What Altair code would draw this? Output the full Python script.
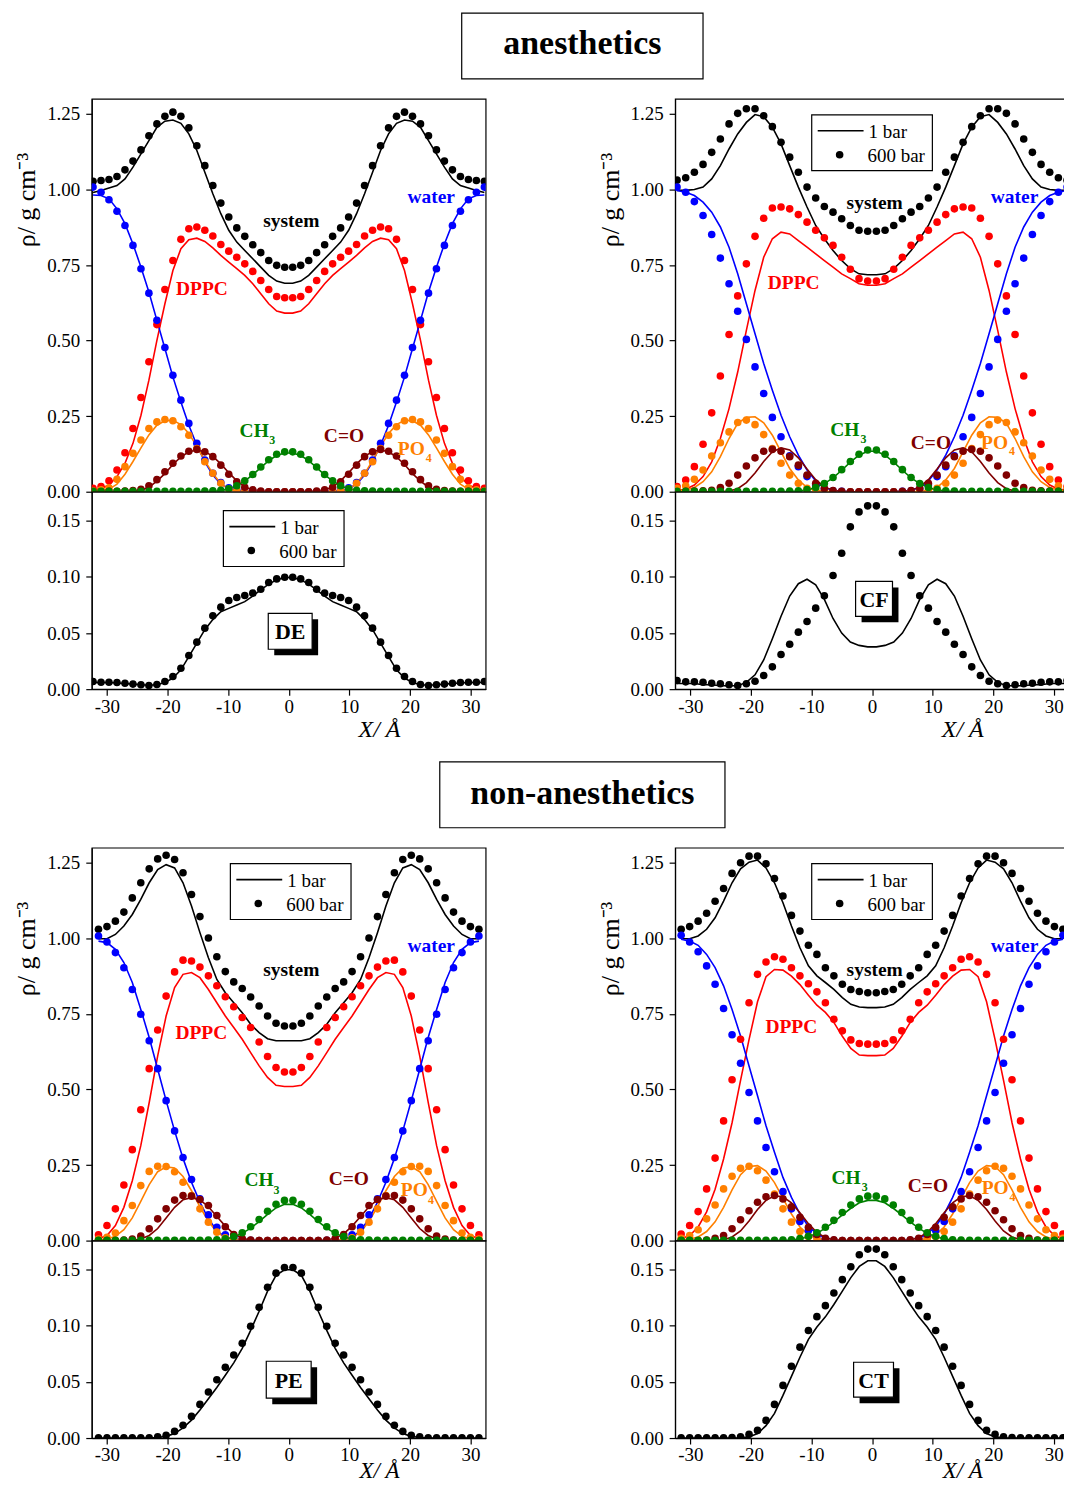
import altair as alt
import pandas as pd

FONT = "Liberation Serif"

COMPONENTS = ["system", "DPPC", "water", "PO4", "C=O", "CH3"]
COLORS = ["#000000", "#ff0000", "#0000ff", "#ff8000", "#800000", "#008000"]

X_TICKS = [-30, -20, -10, 0, 10, 20, 30]
Y_TICKS_TOP = [0.0, 0.25, 0.5, 0.75, 1.0, 1.25]
Y_TICKS_BOT = [0.0, 0.05, 0.10, 0.15]

# ---- bin centres of the left half (edge -> centre), Angstrom; profiles are symmetric ----
X_DE = [-32.29, -30.97, -29.66, -28.34, -27.02, -25.70, -24.38, -23.07, -21.75, -20.43, -19.11, -17.79,
        -16.48, -15.16, -13.84, -12.52, -11.20, -9.89, -8.57, -7.25, -5.93, -4.61, -3.30, -1.98, -0.66]
X_CF = [-32.18, -30.75, -29.32, -27.89, -26.46, -25.03, -23.60, -22.17, -20.74, -19.31, -17.88, -16.45,
        -15.02, -13.59, -12.16, -10.73, -9.30, -7.87, -6.44, -5.01, -3.58, -2.15, -0.72]
X_PE = [-31.39, -29.99, -28.60, -27.20, -25.81, -24.41, -23.02, -21.62, -20.23, -18.83, -17.44, -16.04,
        -14.65, -13.25, -11.86, -10.46, -9.07, -7.67, -6.28, -4.88, -3.49, -2.09, -0.70]
X_CT = [-31.50, -30.10, -28.70, -27.30, -25.90, -24.50, -23.10, -21.70, -20.30, -18.90, -17.50, -16.10,
        -14.70, -13.30, -11.90, -10.50, -9.10, -7.70, -6.30, -4.90, -3.50, -2.10, -0.70]

# ---------------- DE (anesthetic) ----------------
DE_SYS_1 = [0.990, 0.997, 1.005, 1.013, 1.035, 1.074, 1.118, 1.162, 1.206, 1.226, 1.230, 1.219, 1.184,
            1.129, 1.057, 0.986, 0.920, 0.865, 0.826, 0.798, 0.771, 0.743, 0.716, 0.697, 0.690]
DE_SYS_600 = [1.027, 1.030, 1.033, 1.043, 1.065, 1.094, 1.131, 1.178, 1.217, 1.242, 1.256, 1.242, 1.204,
              1.145, 1.079, 1.013, 0.955, 0.909, 0.873, 0.845, 0.817, 0.791, 0.765, 0.749, 0.743]
DE_DPPC_1 = [0.005, 0.011, 0.022, 0.050, 0.094, 0.160, 0.253, 0.369, 0.501, 0.622, 0.732, 0.804, 0.834,
             0.839, 0.828, 0.807, 0.782, 0.760, 0.738, 0.716, 0.688, 0.655, 0.622, 0.598, 0.591]
DE_DPPC_600 = [0.011, 0.017, 0.036, 0.072, 0.129, 0.209, 0.312, 0.430, 0.553, 0.669, 0.765, 0.835, 0.870,
               0.876, 0.865, 0.846, 0.818, 0.796, 0.776, 0.754, 0.729, 0.699, 0.669, 0.646, 0.642]
DE_WAT_1 = [0.982, 0.980, 0.969, 0.936, 0.887, 0.820, 0.743, 0.661, 0.567, 0.474, 0.380, 0.297, 0.220,
            0.154, 0.099, 0.055, 0.025, 0.010, 0.003, 0.001, 0.0, 0.0, 0.0, 0.0, 0.0]
DE_WAT_600 = [1.008, 0.991, 0.966, 0.928, 0.881, 0.815, 0.738, 0.657, 0.567, 0.477, 0.385, 0.303, 0.226,
              0.160, 0.105, 0.061, 0.030, 0.013, 0.006, 0.002, 0.001, 0.0, 0.0, 0.0, 0.0]
DE_PO4_1 = [0.001, 0.003, 0.008, 0.025, 0.058, 0.100, 0.145, 0.188, 0.220, 0.235, 0.236, 0.222, 0.193,
            0.150, 0.103, 0.060, 0.027, 0.009, 0.002, 0.0, 0.0, 0.0, 0.0, 0.0, 0.0]
DE_PO4_600 = [0.002, 0.006, 0.013, 0.041, 0.083, 0.127, 0.171, 0.209, 0.231, 0.239, 0.235, 0.215, 0.187,
              0.143, 0.099, 0.061, 0.028, 0.009, 0.003, 0.001, 0.0, 0.0, 0.0, 0.0, 0.0]
DE_CO_1 = [0.0, 0.0, 0.0, 0.0, 0.001, 0.002, 0.005, 0.015, 0.035, 0.060, 0.090, 0.115, 0.132,
           0.138, 0.133, 0.117, 0.092, 0.063, 0.036, 0.016, 0.006, 0.002, 0.0, 0.0, 0.0]
DE_CO_600 = [0.0, 0.0, 0.001, 0.001, 0.002, 0.004, 0.008, 0.020, 0.040, 0.066, 0.094, 0.118, 0.134,
             0.140, 0.132, 0.116, 0.088, 0.058, 0.033, 0.015, 0.006, 0.002, 0.0, 0.0, 0.0]
DE_CH3_1 = [0.0, 0.0, 0.0, 0.0, 0.0, 0.0, 0.0, 0.0, 0.0, 0.0, 0.0, 0.0, 0.0, 0.0, 0.0,
            0.001, 0.004, 0.010, 0.020, 0.036, 0.056, 0.080, 0.103, 0.120, 0.128]
DE_CH3_600 = [0.001, 0.001, 0.001, 0.001, 0.001, 0.001, 0.001, 0.001, 0.001, 0.001, 0.001, 0.001, 0.001, 0.001,
              0.002, 0.003, 0.005, 0.010, 0.020, 0.036, 0.057, 0.082, 0.106, 0.124, 0.132]
DE_SOL_1 = [0.006, 0.006, 0.006, 0.0055, 0.005, 0.0045, 0.004, 0.0035, 0.004, 0.006, 0.0098, 0.0172, 0.029,
            0.041, 0.053, 0.062, 0.069, 0.072, 0.075, 0.078, 0.083, 0.0885, 0.0936, 0.0974, 0.0995]
DE_SOL_600 = [0.0068, 0.0062, 0.0062, 0.0060, 0.0053, 0.0045, 0.0039, 0.0033, 0.0042, 0.0068, 0.0113, 0.0187,
              0.0300, 0.0419, 0.0544, 0.0654, 0.0731, 0.0790, 0.0817, 0.0835, 0.0856, 0.0891, 0.0951, 0.0983, 0.0998]

# ---------------- CF (anesthetic) ----------------
CF_SYS_1 = [0.997, 0.997, 1.000, 1.008, 1.035, 1.079, 1.134, 1.184, 1.222, 1.248, 1.241, 1.206, 1.151,
            1.079, 1.008, 0.942, 0.881, 0.837, 0.798, 0.765, 0.738, 0.721, 0.718]
CF_SYS_600 = [1.031, 1.039, 1.057, 1.083, 1.123, 1.167, 1.217, 1.252, 1.267, 1.267, 1.244, 1.208, 1.156,
              1.107, 1.057, 1.008, 0.972, 0.944, 0.925, 0.903, 0.881, 0.865, 0.862]
CF_DPPC_1 = [0.005, 0.008, 0.022, 0.050, 0.099, 0.176, 0.275, 0.396, 0.534, 0.666, 0.776, 0.837, 0.859,
             0.853, 0.831, 0.809, 0.787, 0.765, 0.743, 0.721, 0.705, 0.688, 0.683]
CF_DPPC_600 = [0.017, 0.039, 0.083, 0.157, 0.261, 0.383, 0.520, 0.648, 0.754, 0.845, 0.905, 0.939, 0.942,
               0.936, 0.917, 0.892, 0.865, 0.840, 0.815, 0.776, 0.736, 0.705, 0.697]
CF_WAT_1 = [0.997, 0.991, 0.980, 0.958, 0.925, 0.876, 0.809, 0.721, 0.622, 0.523, 0.424, 0.336, 0.253,
            0.182, 0.121, 0.072, 0.036, 0.014, 0.005, 0.001, 0.0, 0.0, 0.0]
CF_WAT_600 = [1.008, 0.991, 0.960, 0.914, 0.851, 0.773, 0.688, 0.597, 0.504, 0.413, 0.325, 0.246, 0.182,
              0.119, 0.083, 0.050, 0.022, 0.009, 0.003, 0.001, 0.0, 0.0, 0.0]
CF_PO4_1 = [0.002, 0.006, 0.014, 0.033, 0.066, 0.116, 0.176, 0.226, 0.246, 0.248, 0.228, 0.187, 0.132,
            0.077, 0.039, 0.014, 0.005, 0.001, 0.0, 0.0, 0.0, 0.0, 0.0]
CF_PO4_600 = [0.011, 0.020, 0.041, 0.072, 0.118, 0.162, 0.198, 0.229, 0.237, 0.222, 0.189, 0.143, 0.094,
              0.055, 0.028, 0.011, 0.005, 0.002, 0.0, 0.0, 0.0, 0.0, 0.0]
CF_CO_1 = [0.0, 0.0, 0.0, 0.0, 0.0, 0.0, 0.002, 0.010, 0.030, 0.062, 0.100, 0.132, 0.145,
           0.138, 0.112, 0.075, 0.040, 0.016, 0.005, 0.001, 0.0, 0.0, 0.0]
CF_CO_600 = [0.0, 0.001, 0.002, 0.003, 0.005, 0.014, 0.028, 0.055, 0.085, 0.112, 0.134, 0.140, 0.134,
             0.116, 0.088, 0.055, 0.028, 0.011, 0.004, 0.001, 0.0, 0.0, 0.0]
CF_CH3_1 = [0.0, 0.0, 0.0, 0.0, 0.0, 0.0, 0.0, 0.0, 0.0, 0.0, 0.0, 0.0, 0.0,
            0.001, 0.002, 0.006, 0.014, 0.027, 0.046, 0.071, 0.098, 0.121, 0.134]
CF_CH3_600 = [0.001, 0.001, 0.001, 0.001, 0.001, 0.001, 0.001, 0.001, 0.001, 0.001, 0.001, 0.001, 0.001,
              0.002, 0.003, 0.007, 0.014, 0.027, 0.047, 0.073, 0.100, 0.124, 0.138]
CF_SOL_1 = [0.005, 0.005, 0.005, 0.004, 0.004, 0.003, 0.003, 0.003, 0.006, 0.0128, 0.026, 0.045, 0.065,
            0.083, 0.094, 0.098, 0.093, 0.080, 0.063, 0.050, 0.042, 0.039, 0.0377]
CF_SOL_600 = [0.0077, 0.0065, 0.0065, 0.0062, 0.0053, 0.0048, 0.0039, 0.0033, 0.0048, 0.0071, 0.0122, 0.0199,
              0.0309, 0.0401, 0.0508, 0.0603, 0.0722, 0.0832, 0.1013, 0.1212, 0.1447, 0.158, 0.1634]

# ---------------- PE (non-anesthetic) ----------------
PE_SYS_1 = [0.999, 0.999, 1.013, 1.041, 1.079, 1.129, 1.184, 1.228, 1.244, 1.233, 1.184, 1.107, 1.019,
            0.936, 0.864, 0.820, 0.787, 0.754, 0.716, 0.688, 0.668, 0.661, 0.661]
PE_SYS_600 = [1.030, 1.039, 1.057, 1.087, 1.134, 1.184, 1.230, 1.263, 1.275, 1.261, 1.217, 1.145, 1.072,
              1.001, 0.939, 0.890, 0.856, 0.834, 0.806, 0.776, 0.743, 0.719, 0.710]
PE_DPPC_1 = [0.006, 0.017, 0.050, 0.110, 0.198, 0.314, 0.457, 0.611, 0.743, 0.837, 0.881, 0.887, 0.870,
             0.831, 0.787, 0.743, 0.705, 0.666, 0.622, 0.578, 0.540, 0.514, 0.510]
PE_DPPC_600 = [0.019, 0.050, 0.105, 0.184, 0.301, 0.433, 0.569, 0.697, 0.809, 0.889, 0.928, 0.925, 0.905,
               0.876, 0.843, 0.807, 0.774, 0.738, 0.705, 0.657, 0.609, 0.573, 0.558]
PE_WAT_1 = [0.991, 0.986, 0.964, 0.920, 0.854, 0.765, 0.672, 0.567, 0.463, 0.363, 0.272, 0.193, 0.127,
            0.072, 0.033, 0.011, 0.003, 0.001, 0.0, 0.0, 0.0, 0.0, 0.0]
PE_WAT_600 = [1.008, 0.988, 0.953, 0.903, 0.831, 0.749, 0.661, 0.569, 0.463, 0.363, 0.275, 0.202, 0.138,
              0.085, 0.044, 0.019, 0.009, 0.003, 0.001, 0.0, 0.0, 0.0, 0.0]
PE_PO4_1 = [0.002, 0.005, 0.014, 0.036, 0.075, 0.130, 0.185, 0.228, 0.244, 0.240, 0.212, 0.165, 0.112,
            0.064, 0.028, 0.010, 0.003, 0.001, 0.0, 0.0, 0.0, 0.0, 0.0]
PE_PO4_600 = [0.005, 0.011, 0.025, 0.066, 0.116, 0.182, 0.229, 0.246, 0.245, 0.228, 0.193, 0.149, 0.105,
              0.061, 0.028, 0.009, 0.003, 0.001, 0.0, 0.0, 0.0, 0.0, 0.0]
PE_CO_1 = [0.0, 0.0, 0.0, 0.0, 0.001, 0.005, 0.017, 0.040, 0.075, 0.110, 0.135, 0.142, 0.135,
           0.112, 0.080, 0.048, 0.022, 0.008, 0.002, 0.0, 0.0, 0.0, 0.0]
PE_CO_600 = [0.0, 0.0, 0.0, 0.002, 0.005, 0.015, 0.039, 0.072, 0.105, 0.134, 0.149, 0.147, 0.136,
             0.116, 0.083, 0.046, 0.020, 0.007, 0.002, 0.0, 0.0, 0.0, 0.0]
PE_CH3_1 = [0.0, 0.0, 0.0, 0.0, 0.0, 0.0, 0.0, 0.0, 0.0, 0.0, 0.0, 0.0, 0.0,
            0.001, 0.002, 0.005, 0.012, 0.024, 0.041, 0.063, 0.087, 0.108, 0.120]
PE_CH3_600 = [0.001, 0.001, 0.001, 0.001, 0.001, 0.001, 0.001, 0.001, 0.001, 0.001, 0.001, 0.001, 0.001,
              0.002, 0.003, 0.006, 0.013, 0.026, 0.046, 0.070, 0.097, 0.120, 0.133]
PE_SOL_1 = [0.0, 0.0, 0.0, 0.0, 0.0, 0.0, 0.0, 0.0005, 0.0015, 0.004, 0.009, 0.016, 0.025,
            0.035, 0.045, 0.056, 0.067, 0.080, 0.096, 0.113, 0.131, 0.145, 0.150]
PE_SOL_600 = [0.0003, 0.0003, 0.0003, 0.0003, 0.0003, 0.0003, 0.0003, 0.001, 0.0024, 0.0059, 0.0113, 0.0193,
              0.030, 0.041, 0.052, 0.063, 0.074, 0.0845, 0.0996, 0.1165, 0.1343, 0.147, 0.152]

# ---------------- CT (non-anesthetic) ----------------
CT_SYS_1 = [0.999, 0.999, 1.008, 1.030, 1.068, 1.123, 1.184, 1.230, 1.252, 1.259, 1.233, 1.184, 1.118,
            1.041, 0.969, 0.909, 0.876, 0.854, 0.831, 0.804, 0.782, 0.773, 0.771]
CT_SYS_600 = [1.030, 1.039, 1.057, 1.083, 1.123, 1.165, 1.215, 1.250, 1.272, 1.272, 1.247, 1.198, 1.140,
              1.076, 1.024, 0.977, 0.947, 0.903, 0.876, 0.848, 0.831, 0.824, 0.820]
CT_DPPC_1 = [0.006, 0.017, 0.045, 0.095, 0.170, 0.270, 0.390, 0.530, 0.665, 0.790, 0.873, 0.897, 0.895,
             0.875, 0.847, 0.812, 0.779, 0.755, 0.722, 0.676, 0.636, 0.614, 0.612]
CT_DPPC_600 = [0.022, 0.050, 0.096, 0.171, 0.273, 0.396, 0.532, 0.666, 0.787, 0.881, 0.922, 0.939, 0.931,
               0.903, 0.876, 0.850, 0.823, 0.787, 0.732, 0.694, 0.664, 0.652, 0.650]
CT_WAT_1 = [0.997, 0.991, 0.977, 0.947, 0.903, 0.843, 0.765, 0.677, 0.578, 0.479, 0.380, 0.292, 0.209,
            0.143, 0.088, 0.047, 0.022, 0.009, 0.003, 0.0, 0.0, 0.0, 0.0]
CT_WAT_600 = [1.010, 0.988, 0.956, 0.909, 0.848, 0.768, 0.681, 0.587, 0.490, 0.396, 0.308, 0.228, 0.162,
              0.105, 0.063, 0.033, 0.014, 0.005, 0.001, 0.0, 0.0, 0.0, 0.0]
CT_PO4_1 = [0.002, 0.005, 0.012, 0.030, 0.062, 0.110, 0.168, 0.218, 0.245, 0.248, 0.230, 0.192, 0.140,
            0.088, 0.045, 0.018, 0.006, 0.002, 0.0, 0.0, 0.0, 0.0, 0.0]
CT_PO4_600 = [0.008, 0.017, 0.036, 0.072, 0.118, 0.171, 0.213, 0.239, 0.246, 0.231, 0.200, 0.154, 0.105,
              0.061, 0.030, 0.013, 0.005, 0.001, 0.0, 0.0, 0.0, 0.0, 0.0]
CT_CO_1 = [0.0, 0.0, 0.0, 0.0, 0.0, 0.003, 0.012, 0.032, 0.065, 0.103, 0.133, 0.148, 0.145,
           0.125, 0.092, 0.056, 0.027, 0.010, 0.003, 0.0, 0.0, 0.0, 0.0]
CT_CO_600 = [0.0, 0.0, 0.0, 0.002, 0.008, 0.017, 0.039, 0.069, 0.099, 0.127, 0.145, 0.149, 0.138,
             0.112, 0.077, 0.044, 0.020, 0.008, 0.003, 0.0, 0.0, 0.0, 0.0]
CT_CH3_1 = [0.0, 0.0, 0.0, 0.0, 0.0, 0.0, 0.0, 0.0, 0.0, 0.0, 0.0, 0.0,
            0.001, 0.002, 0.006, 0.013, 0.024, 0.041, 0.062, 0.085, 0.107, 0.125, 0.133]
CT_CH3_600 = [0.001, 0.001, 0.001, 0.001, 0.001, 0.001, 0.001, 0.001, 0.001, 0.001, 0.001, 0.001,
              0.002, 0.003, 0.007, 0.014, 0.026, 0.044, 0.067, 0.093, 0.118, 0.138, 0.147]
CT_SOL_1 = [0.0, 0.0, 0.0, 0.0, 0.0, 0.0, 0.0, 0.0003, 0.001, 0.004, 0.011, 0.022, 0.038,
            0.055, 0.072, 0.088, 0.099, 0.108, 0.119, 0.131, 0.143, 0.153, 0.158]
CT_SOL_600 = [0.0003, 0.0003, 0.0003, 0.0003, 0.0003, 0.0003, 0.0005, 0.001, 0.0033, 0.0068, 0.0157, 0.030,
              0.0469, 0.064, 0.081, 0.0958, 0.1082, 0.118, 0.1293, 0.1412, 0.1527, 0.1634, 0.1684]

# ---------------- in-plot labels ----------------
LBL_TEXT = ["system", "water", "DPPC", "CH", "C=O", "PO"]
LBL_COLOR = ["#000000", "#0000ff", "#ff0000", "#008000", "#800000", "#ff8000"]
SUB_TEXT = ["3", "4"]
SUB_COLOR = ["#008000", "#ff8000"]
DE_LBL_X = [-4.2, 19.6, -18.6, -8.1, 5.8, 18.0]
DE_LBL_Y = [0.876, 0.955, 0.650, 0.182, 0.165, 0.121]
DE_SUB_X = [-3.2, 22.6]
DE_SUB_Y = [0.158, 0.097]
CF_LBL_X = [-4.2, 19.6, -17.2, -6.9, 6.4, 18.0]
CF_LBL_Y = [0.934, 0.955, 0.670, 0.185, 0.140, 0.143]
CF_SUB_X = [-1.9, 22.6]
CF_SUB_Y = [0.161, 0.120]
PE_LBL_X = [-4.2, 19.6, -18.7, -7.3, 6.6, 18.5]
PE_LBL_Y = [0.876, 0.955, 0.666, 0.180, 0.185, 0.146]
PE_SUB_X = [-2.5, 23.0]
PE_SUB_Y = [0.154, 0.122]
CT_LBL_X = [-4.2, 19.6, -17.6, -6.7, 5.9, 18.1]
CT_LBL_Y = [0.876, 0.955, 0.686, 0.187, 0.160, 0.154]
CT_SUB_X = [-1.7, 22.7]
CT_SUB_Y = [0.163, 0.130]

# ---------------- layout constants ----------------
W, H_TOP, H_BOT = 395, 394, 198
XS = alt.Scale(domain=[-32.5, 32.5], nice=False, zero=False)
YS_TOP = alt.Scale(domain=[0, 1.30], nice=False, zero=False)
YS_BOT = alt.Scale(domain=[0, 0.176], nice=False, zero=False)
ONE = pd.DataFrame({"k": [0]})
COLOR = alt.Color("comp:N", scale=alt.Scale(domain=COMPONENTS, range=COLORS), legend=None)


def mirror_x(half):
    return half + [-v for v in reversed(half)]


def mirror_y(half):
    return half + list(reversed(half))


def legend_layers(bx, by):
    base = alt.Chart(ONE)
    box = base.mark_rect(fill="white", stroke="black", strokeWidth=1.2).encode(
        x=alt.value(bx), x2=alt.value(bx + 121), y=alt.value(by), y2=alt.value(by + 56))
    ln = base.mark_rule(color="black", strokeWidth=1.6).encode(
        x=alt.value(bx + 6), x2=alt.value(bx + 52), y=alt.value(by + 16))
    pt = base.mark_circle(color="black", size=58, opacity=1).encode(
        x=alt.value(bx + 28), y=alt.value(by + 40))
    t1 = base.mark_text(font=FONT, fontSize=19, align="left", baseline="alphabetic",
                        color="black", text="1 bar").encode(x=alt.value(bx + 57), y=alt.value(by + 23))
    t2 = base.mark_text(font=FONT, fontSize=19, align="left", baseline="alphabetic",
                        color="black", text="600 bar").encode(x=alt.value(bx + 56), y=alt.value(by + 47))
    return [box, ln, pt, t1, t2]


def tag_layers(bx, by, w, h, label):
    base = alt.Chart(ONE)
    shadow = base.mark_rect(fill="black").encode(
        x=alt.value(bx + 6), x2=alt.value(bx + w + 6), y=alt.value(by + 6), y2=alt.value(by + h + 6))
    box = base.mark_rect(fill="white", stroke="black", strokeWidth=1.2).encode(
        x=alt.value(bx), x2=alt.value(bx + w), y=alt.value(by), y2=alt.value(by + h))
    txt = base.mark_text(font=FONT, fontSize=22, fontWeight="bold", align="center",
                         baseline="alphabetic", color="black", text=label).encode(
        x=alt.value(bx + w / 2), y=alt.value(by + h / 2 + 8))
    return [shadow, box, txt]


def top_chart(xh, comps, lbl_x, lbl_y, sub_x, sub_y, legend=None):
    xf = mirror_x(xh)
    lrows, drows = [], []
    for c in COMPONENTS:
        lh, dh = comps[c]
        assert len(lh) == len(xh) and len(dh) == len(xh), (c, len(lh), len(dh), len(xh))
        for xv, yv in zip(xf, mirror_y(lh)):
            lrows.append({"X": xv, "rho": yv, "comp": c})
        for xv, yv in zip(xf, mirror_y(dh)):
            drows.append({"X": xv, "rho": yv, "comp": c})
    yaxis = alt.Axis(values=Y_TICKS_TOP, format=".2f", title="ρ/ g cm⁻³",
                     titleX=-57, titleY=101, titleAngle=270, titleAlign="center",
                     titleBaseline="alphabetic", titleFontSize=26, titleFontWeight="normal")
    x = alt.X("X:Q", scale=XS, axis=None)
    y = alt.Y("rho:Q", scale=YS_TOP, axis=yaxis)
    lines = alt.Chart(pd.DataFrame(lrows)).mark_line(strokeWidth=1.6, clip=True).encode(
        x=x, y=y, color=COLOR)
    dots = alt.Chart(pd.DataFrame(drows)).mark_circle(size=58, opacity=1, clip=True).encode(
        x=x, y=y, color=COLOR)
    lab_df = pd.DataFrame({"X": lbl_x, "rho": lbl_y, "txt": LBL_TEXT, "col": LBL_COLOR})
    labs = alt.Chart(lab_df).mark_text(font=FONT, fontWeight="bold", fontSize=19.5, align="left",
                                       baseline="alphabetic").encode(
        x=x, y=y, text="txt:N", color=alt.Color("col:N", scale=None))
    sub_df = pd.DataFrame({"X": sub_x, "rho": sub_y, "txt": SUB_TEXT, "col": SUB_COLOR})
    subs = alt.Chart(sub_df).mark_text(font=FONT, fontWeight="bold", fontSize=12, align="left",
                                       baseline="alphabetic").encode(
        x=x, y=y, text="txt:N", color=alt.Color("col:N", scale=None))
    layers = [lines, dots, labs, subs]
    if legend is not None:
        layers += legend_layers(*legend)
    return alt.layer(*layers).properties(width=W, height=H_TOP)


def bottom_chart(xh, sol_1, sol_600, tag, title_y, title_size, legend=None):
    assert len(sol_1) == len(xh) and len(sol_600) == len(xh)
    xf = mirror_x(xh)
    lrow = pd.DataFrame({"X": xf, "rho": mirror_y(sol_1)})
    drow = pd.DataFrame({"X": xf, "rho": mirror_y(sol_600)})
    xaxis = alt.Axis(values=X_TICKS, labelExpr="'' + datum.value", title="X/ Å",
                     titleX=288, titleY=title_y, titleAlign="center", titleBaseline="alphabetic",
                     titleFontSize=title_size, titleFontStyle="italic", titleFontWeight="normal",
                     labelPadding=2)
    yaxis = alt.Axis(values=Y_TICKS_BOT, format=".2f", title=None)
    x = alt.X("X:Q", scale=XS, axis=xaxis)
    y = alt.Y("rho:Q", scale=YS_BOT, axis=yaxis)
    line = alt.Chart(lrow).mark_line(color="black", strokeWidth=1.6, clip=True).encode(x=x, y=y)
    dots = alt.Chart(drow).mark_circle(color="black", size=58, opacity=1, clip=True).encode(x=x, y=y)
    layers = [line, dots] + tag_layers(*tag)
    if legend is not None:
        layers += legend_layers(*legend)
    return alt.layer(*layers).properties(width=W, height=H_BOT)


def panel(top, bottom):
    return alt.vconcat(top, bottom, spacing=0, bounds="flush")


def title_chart(text, bx, by, bw, bh, ty, height):
    base = alt.Chart(ONE)
    box = base.mark_rect(fill="white", stroke="black", strokeWidth=1.2).encode(
        x=alt.value(bx), x2=alt.value(bx + bw), y=alt.value(by), y2=alt.value(by + bh))
    txt = base.mark_text(font=FONT, fontSize=34, fontWeight="bold", align="center",
                         baseline="alphabetic", color="black", text=text).encode(
        x=alt.value(bx + bw / 2), y=alt.value(ty))
    return alt.layer(box, txt).properties(width=700, height=height,
                                          view=alt.ViewBackground(stroke="transparent"))


DE_COMPS = {"system": (DE_SYS_1, DE_SYS_600), "DPPC": (DE_DPPC_1, DE_DPPC_600),
            "water": (DE_WAT_1, DE_WAT_600), "PO4": (DE_PO4_1, DE_PO4_600),
            "C=O": (DE_CO_1, DE_CO_600), "CH3": (DE_CH3_1, DE_CH3_600)}
CF_COMPS = {"system": (CF_SYS_1, CF_SYS_600), "DPPC": (CF_DPPC_1, CF_DPPC_600),
            "water": (CF_WAT_1, CF_WAT_600), "PO4": (CF_PO4_1, CF_PO4_600),
            "C=O": (CF_CO_1, CF_CO_600), "CH3": (CF_CH3_1, CF_CH3_600)}
PE_COMPS = {"system": (PE_SYS_1, PE_SYS_600), "DPPC": (PE_DPPC_1, PE_DPPC_600),
            "water": (PE_WAT_1, PE_WAT_600), "PO4": (PE_PO4_1, PE_PO4_600),
            "C=O": (PE_CO_1, PE_CO_600), "CH3": (PE_CH3_1, PE_CH3_600)}
CT_COMPS = {"system": (CT_SYS_1, CT_SYS_600), "DPPC": (CT_DPPC_1, CT_DPPC_600),
            "water": (CT_WAT_1, CT_WAT_600), "PO4": (CT_PO4_1, CT_PO4_600),
            "C=O": (CT_CO_1, CT_CO_600), "CH3": (CT_CH3_1, CT_CH3_600)}

p_de = panel(top_chart(X_DE, DE_COMPS, DE_LBL_X, DE_LBL_Y, DE_SUB_X, DE_SUB_Y),
             bottom_chart(X_DE, DE_SOL_1, DE_SOL_600, (177, 122, 44, 36, "DE"), 47, 24, legend=(132, 19)))
p_cf = panel(top_chart(X_CF, CF_COMPS, CF_LBL_X, CF_LBL_Y, CF_SUB_X, CF_SUB_Y, legend=(137, 16)),
             bottom_chart(X_CF, CF_SOL_1, CF_SOL_600, (181, 90, 37, 35, "CF"), 47, 24))
p_pe = panel(top_chart(X_PE, PE_COMPS, PE_LBL_X, PE_LBL_Y, PE_SUB_X, PE_SUB_Y, legend=(139, 16)),
             bottom_chart(X_PE, PE_SOL_1, PE_SOL_600, (175, 121, 45, 37, "PE"), 40, 23))
p_ct = panel(top_chart(X_CT, CT_COMPS, CT_LBL_X, CT_LBL_Y, CT_SUB_X, CT_SUB_Y, legend=(137, 16)),
             bottom_chart(X_CT, CT_SOL_1, CT_SOL_600, (179, 122, 40, 35, "CT"), 40, 23))

row1 = alt.hconcat(p_de, p_cf, spacing=110)
row2 = alt.hconcat(p_pe, p_ct, spacing=110)

title1 = title_chart("anesthetics", 371, 0, 242, 66, 41, 84)
title2 = title_chart("non-anesthetics", 349, 19, 286, 66, 61, 103)

chart = alt.vconcat(title1, row1, title2, row2, spacing=0).properties(
    padding={"left": 5, "top": 1, "right": -6, "bottom": -3}
).configure(font=FONT).configure_view(
    stroke="black", strokeWidth=1.2
).configure_axis(
    labelFont=FONT, labelFontSize=19, labelColor="black", tickColor="black", domainColor="black",
    tickSize=6, labelPadding=6, titleFont=FONT, titleColor="black", grid=False,
    domainWidth=1.2, tickWidth=1.2
)

chart.save("out.html", embed_options={"renderer": "svg", "actions": False})
